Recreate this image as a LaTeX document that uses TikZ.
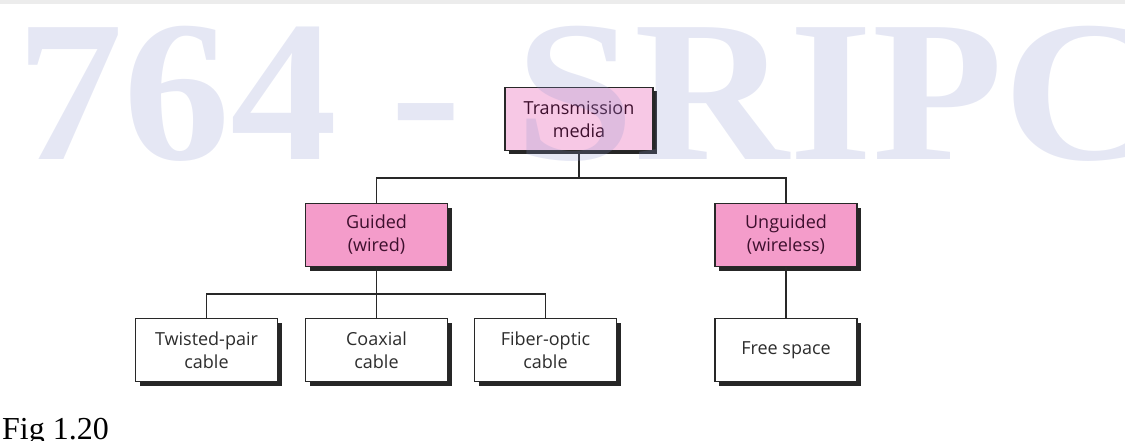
\documentclass[tikz,border=0pt]{standalone}
\usepackage{fontspec}
\setmainfont{Open Sans}
\newfontfamily\serifwm{Liberation Serif}
\usetikzlibrary{shadows}
\definecolor{pinkbox}{RGB}{244,156,202}
\definecolor{pinklight}{RGB}{247,200,229}
\definecolor{pinktext}{RGB}{62,16,46}
\definecolor{graytext}{RGB}{45,45,45}
\definecolor{edge}{RGB}{40,40,40}
\definecolor{wm}{RGB}{138,148,205}
\definecolor{band}{RGB}{236,236,236}
\tikzset{
  boxbase/.style={draw=edge, line width=1.4pt, minimum width=142pt, minimum height=63pt,
    inner sep=0pt, align=center, font=\fontsize{18pt}{23pt}\selectfont,
    drop shadow={shadow xshift=4pt, shadow yshift=-4pt, fill=black!85, opacity=1}},
  pinkstyle/.style={boxbase, fill=pinkbox, text=pinktext},
  whitestyle/.style={boxbase, fill=white, text=graytext},
  link/.style={draw=edge, line width=1.9pt}
}
\begin{document}
\begin{tikzpicture}[x=1pt,y=-1pt]
\useasboundingbox (0,0) rectangle (1125,441);
\clip (0,0) rectangle (1125,441);
\fill[band] (0,0) rectangle (1125,4);
% nodes
\node[pinkstyle, fill=pinklight, minimum width=148pt] (tm) at (579,119) {Transmission\\media};
\node[pinkstyle] (guided) at (376.5,235) {Guided\\(wired)};
\node[pinkstyle] (unguided) at (786,235) {Unguided\\(wireless)};
\node[whitestyle] (tp) at (206.5,350) {Twisted-pair\\cable};
\node[whitestyle] (coax) at (376.5,350) {Coaxial\\cable};
\node[whitestyle] (fiber) at (545.5,350) {Fiber-optic\\cable};
\node[whitestyle] (free) at (786,350) {Free space};
% connectors
\coordinate (j1) at (579,178);
\coordinate (j2) at (376.5,294);
\draw[link] (tm.south) -- (j1);
\draw[link] (guided.north) |- (j1) -| (unguided.north);
\draw[link] (guided.south) -- (coax.north);
\draw[link] (tp.north) |- (j2) -| (fiber.north);
\draw[link] (unguided.south) -- (free.north);
% caption
\node[anchor=base west, inner sep=0pt, font=\serifwm\fontsize{32pt}{32pt}\selectfont, text=black] (cap) at (2,439) {Fig 1.20};
% watermark
\node[anchor=base west, inner sep=0pt, text=wm, text opacity=0.22, yscale=0.95, xscale=1.01,
  font=\serifwm\bfseries\fontsize{212pt}{212pt}\selectfont] (wmark) at (16,160) {764 - SRIPC};
\end{tikzpicture}
\end{document}
